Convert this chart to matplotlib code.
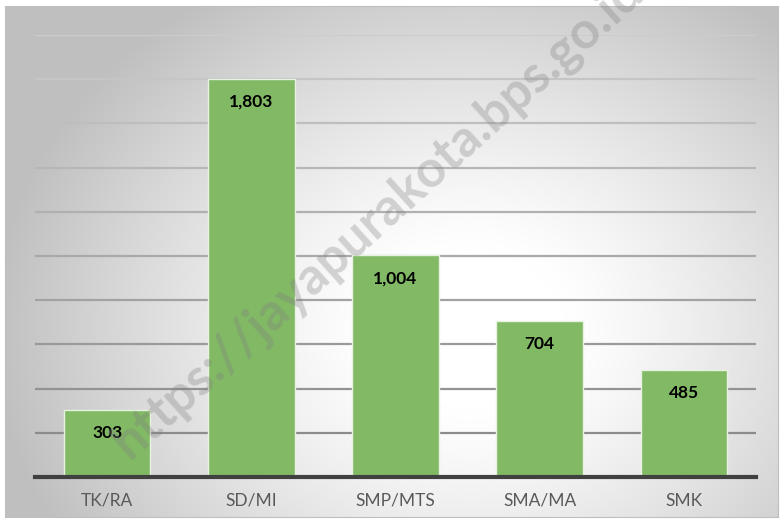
import numpy as np
import matplotlib.pyplot as plt

categories = ['TK/RA', 'SD/MI', 'SMP/MTS', 'SMA/MA', 'SMK']
values = [303, 1803, 1004, 704, 485]
value_labels = ['303', '1,803', '1,004', '704', '485']
yticks = list(range(200, 2001, 200))

plt.rcParams['font.family'] = ['Lato', 'DejaVu Sans']

W, H = 782, 527
fig = plt.figure(figsize=(W / 100, H / 100), dpi=100)
fig.patch.set_facecolor('white')

# background box with radial gradient
bx0, bx1, by0, by1 = 5, 778, 6, 517
bg = fig.add_axes([bx0 / W, 1 - by1 / H, (bx1 - bx0) / W, (by1 - by0) / H])
xx, yy = np.meshgrid(np.linspace(bx0, bx1, 400), np.linspace(by0, by1, 300))
cx, cy = 470, 330
r = np.sqrt(((xx - cx) / 480) ** 2 + ((yy - cy) / 400) ** 2)
v = 1 - 0.25 * np.clip((r - 0.2) / 0.8, 0, 1) ** 1.2
bg.imshow(np.dstack([v, v, v]), aspect='auto', extent=[0, 1, 0, 1], origin='upper')
bg.set_xticks([])
bg.set_yticks([])
for s in bg.spines.values():
    s.set_color('#bfbfbf')
    s.set_linewidth(0.8)

# plot area
px0, px1, py0, py1 = 35, 756, 35, 477
ax = fig.add_axes([px0 / W, 1 - py1 / H, (px1 - px0) / W, (py1 - py0) / H])
ax.patch.set_alpha(0)
x = np.arange(len(categories))
ax.set_xlim(-0.5, len(categories) - 0.5)
ax.set_ylim(0, 2000)
ax.set_yticks(yticks)
# gridlines: darker near the bottom, lighter at the top
for yt in yticks:
    g = 0.55 + 0.25 * (yt - 200) / 1800
    ax.axhline(yt, color=(g, g, g), linewidth=1.6, zorder=0)
ax.tick_params(axis='y', left=False, labelleft=False)
ax.tick_params(axis='x', bottom=False, pad=8, labelsize=12.5, labelcolor='#595959')
for s in ['top', 'right', 'left']:
    ax.spines[s].set_visible(False)
ax.spines['bottom'].set_color('#404040')
ax.spines['bottom'].set_linewidth(3)

bars = ax.bar(x, values, width=0.6, color='#82b965', edgecolor='#e8f2e0', linewidth=1, zorder=2)
ax.set_xticks(x)
ax.set_xticklabels(categories)
for xi, val, lab in zip(x, values, value_labels):
    ax.annotate(lab, (xi, val), xytext=(0, -16.5), textcoords='offset points',
                ha='center', va='center', fontsize=12.5, fontweight='bold', color='black')

# watermark (runs off the top edge, as in the original)
fig.text(130 / W, 1 - 460 / H, 'https://jayapurakota.bps.go.id', fontsize=37,
         fontweight='bold', color='#808080', alpha=0.32, rotation=42,
         rotation_mode='anchor', ha='left', va='baseline')

fig.savefig('out.png', dpi=100)
